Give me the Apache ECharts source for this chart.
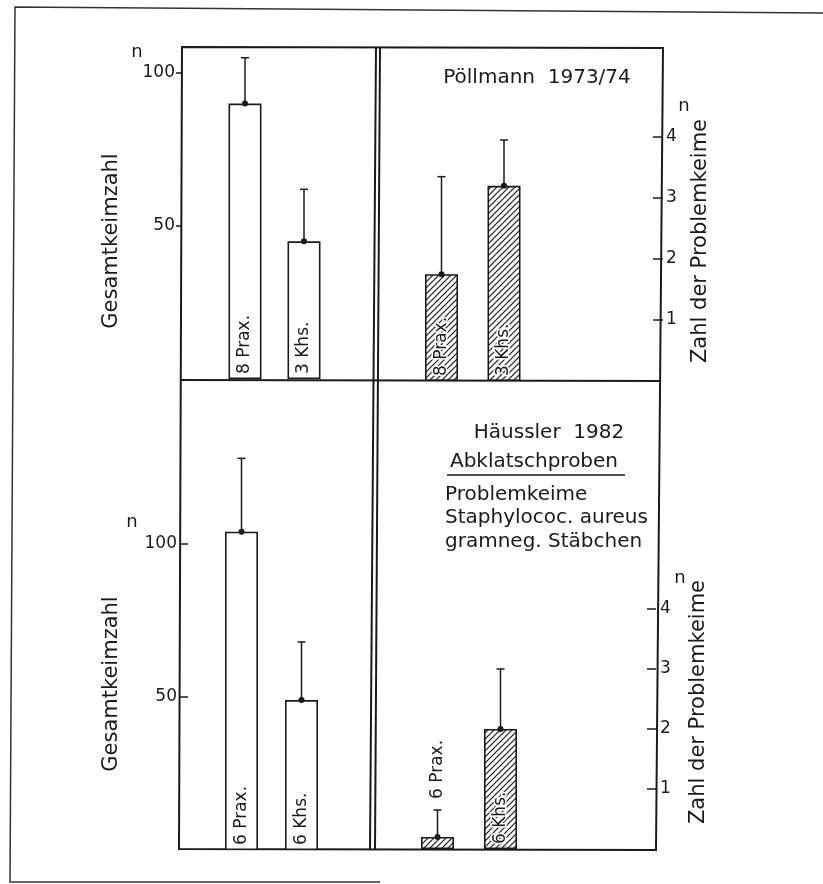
<!DOCTYPE html>
<html>
<head>
<meta charset="utf-8">
<script src="https://cdn.jsdelivr.net/npm/echarts@6/dist/echarts.min.js"></script>
<style>
  html, body { margin: 0; padding: 0; background: #fff; }
  #chart { width: 823px; height: 884px; }
</style>
</head>
<body>
<div id="chart"></div>
<script>
// Pöllmann 1973/74 (top) and Häussler 1982 (bottom): total germ count and problem germs
const categoriesPoellmann = ['8 Prax.', '3 Khs.'];
const categoriesHaeussler = ['6 Prax.', '6 Khs.'];

const gesamtPoellmann = [90, 45];
const gesamtPoellmannUpper = [105, 62];
const problemPoellmann = [1.75, 3.2];
const problemPoellmannUpper = [3.35, 3.95];

const gesamtHaeussler = [104, 49];
const gesamtHaeusslerUpper = [128, 68];
const problemHaeussler = [0.2, 2.0];
const problemHaeusslerUpper = [0.65, 3.0];

const gesamtTicks = [50, 100];
const problemTicks = [1, 2, 3, 4];

const INK = '#1a1a1a';
const FONT = 'DejaVu Sans';

// diagonal hatching for the problem-germ bars
const hatch = document.createElement('canvas');
hatch.width = 6; hatch.height = 6;
const hc = hatch.getContext('2d');
hc.strokeStyle = INK;
hc.lineWidth = 1.2;
hc.beginPath();
hc.moveTo(0, 6); hc.lineTo(6, 0);
hc.moveTo(-1, 1); hc.lineTo(1, -1);
hc.moveTo(5, 7); hc.lineTo(7, 5);
hc.stroke();
const hatchFill = { image: hatch, repeat: 'repeat' };

const chart = echarts.init(document.getElementById('chart'), null, { renderer: 'canvas' });

const grids = [
  { left: 215.5, top: 47, width: 118, height: 332 },
  { left: 410.25, top: 48, width: 125, height: 333 },
  { left: 211.5, top: 381, width: 120, height: 469 },
  { left: 406, top: 381, width: 126, height: 468 }
];

const xAxes = [categoriesPoellmann, categoriesPoellmann, categoriesHaeussler, categoriesHaeussler].map((cats, i) => ({
  type: 'category', gridIndex: i, data: cats,
  axisLine: { show: false }, axisTick: { show: false }, axisLabel: { show: false }
}));

function yAxis(i, max, position, offset, ticks, tickInside, tickLen, margin) {
  return {
    type: 'value', gridIndex: i, min: 0, max: max, position: position, offset: offset,
    splitLine: { show: false },
    axisLine: { show: false },
    axisTick: { show: true, inside: tickInside, length: tickLen, customValues: ticks,
      lineStyle: { color: INK, width: 1.5 } },
    axisLabel: { customValues: ticks, margin: margin, color: INK, fontFamily: FONT, fontSize: 17 }
  };
}

const yAxes = [
  yAxis(0, 332 / 3.06, 'left', 33.5, gesamtTicks, false, 6, 7),
  yAxis(1, 333 / 61, 'right', 127.75, problemTicks, true, 10, 3),
  yAxis(2, 469 / 3.06, 'left', 31.5, gesamtTicks, true, 8, 3),
  yAxis(3, 468 / 60, 'right', 124, problemTicks, true, 9, 4)
];

function barSeries(i, cats, vals, hatched, labelOverrides) {
  return {
    type: 'bar', xAxisIndex: i, yAxisIndex: i, barWidth: 33,
    data: vals.map((v, k) => {
      const item = { value: v };
      if (labelOverrides && labelOverrides[k]) item.label = labelOverrides[k];
      return item;
    }),
    itemStyle: { color: hatched ? hatchFill : '#fff', borderColor: INK, borderWidth: 1.6 },
    label: {
      show: true, formatter: p => cats[p.dataIndex],
      position: 'insideBottom', distance: 5, rotate: 90, align: 'left', verticalAlign: 'middle',
      color: INK, fontFamily: FONT, fontSize: 17,
      textBorderColor: hatched ? '#fff' : 'transparent', textBorderWidth: hatched ? 3 : 0
    },
    emphasis: { disabled: true },
    silent: true
  };
}

function errorSeries(i, vals, uppers) {
  return {
    type: 'custom', xAxisIndex: i, yAxisIndex: i, silent: true,
    data: vals.map((v, k) => [k, v, uppers[k]]),
    renderItem: (params, api) => {
      const base = api.coord([api.value(0), api.value(1)]);
      const top = api.coord([api.value(0), api.value(2)]);
      return {
        type: 'group',
        children: [
          { type: 'line', shape: { x1: base[0], y1: base[1], x2: top[0], y2: top[1] },
            style: { stroke: INK, lineWidth: 1.5 } },
          { type: 'line', shape: { x1: top[0] - 4, y1: top[1], x2: top[0] + 4, y2: top[1] },
            style: { stroke: INK, lineWidth: 1.5 } },
          { type: 'circle', shape: { cx: base[0], cy: base[1], r: 3 },
            style: { fill: INK } }
        ]
      };
    },
    z: 5
  };
}

const series = [
  barSeries(0, categoriesPoellmann, gesamtPoellmann, false),
  errorSeries(0, gesamtPoellmann, gesamtPoellmannUpper),
  barSeries(1, categoriesPoellmann, problemPoellmann, true),
  errorSeries(1, problemPoellmann, problemPoellmannUpper),
  barSeries(2, categoriesHaeussler, gesamtHaeussler, false),
  errorSeries(2, gesamtHaeussler, gesamtHaeusslerUpper),
  barSeries(3, categoriesHaeussler, problemHaeussler, true,
    [{ position: 'top', distance: 38, textBorderWidth: 0 }, null]),
  errorSeries(3, problemHaeussler, problemHaeusslerUpper)
];

const frameStyle = { stroke: INK, lineWidth: 2, fill: null };
const txt = (x, y, text, extra) => ({
  type: 'text', x: x, y: y,
  style: Object.assign({ text: text, fill: INK, font: '20px "' + FONT + '"', align: 'left', verticalAlign: 'middle' }, extra || {})
});
const rotated = (x, y, text) => ({
  type: 'text', x: x, y: y, rotation: Math.PI / 2,
  style: { text: text, fill: INK, font: '21px "' + FONT + '"', align: 'center', verticalAlign: 'middle' }
});
const unitN = (x, y) => txt(x, y, 'n', { align: 'center', font: '18px "' + FONT + '"' });

const graphic = [
  // sheet border
  { type: 'polyline', shape: { points: [[823, 13], [15, 7], [10, 882], [380, 882]] },
    style: { stroke: '#333', lineWidth: 1.5, fill: null } },
  // panel frames
  { type: 'polygon', shape: { points: [[182, 47], [663, 48], [656, 850], [179, 849]] }, style: frameStyle },
  { type: 'polyline', shape: { points: [[181, 380], [661, 381]] }, style: frameStyle },
  { type: 'polyline', shape: { points: [[376, 47], [370, 849]] }, style: frameStyle },
  { type: 'polyline', shape: { points: [[380, 47], [375, 849]] }, style: frameStyle },
  // axis titles and units
  rotated(112, 241, 'Gesamtkeimzahl'),
  rotated(112, 684, 'Gesamtkeimzahl'),
  rotated(701, 241, 'Zahl der Problemkeime'),
  rotated(699, 702, 'Zahl der Problemkeime'),
  unitN(137, 52),
  unitN(132, 522),
  unitN(684, 106),
  unitN(680, 578),
  // panel annotations
  txt(537, 78, 'Pöllmann  1973/74', { align: 'center' }),
  txt(549, 433, 'Häussler  1982', { align: 'center' }),
  txt(534, 462, 'Abklatschproben', { align: 'center' }),
  { type: 'polyline', shape: { points: [[447, 475], [625, 475]] }, style: { stroke: INK, lineWidth: 1.6 } },
  txt(445, 495, 'Problemkeime'),
  txt(445, 518, 'Staphylococ. aureus'),
  txt(445, 542, 'gramneg. Stäbchen')
];

chart.setOption({
  backgroundColor: '#fff',
  animation: false,
  grid: grids,
  xAxis: xAxes,
  yAxis: yAxes,
  series: series,
  graphic: graphic
});
</script>
</body>
</html>
